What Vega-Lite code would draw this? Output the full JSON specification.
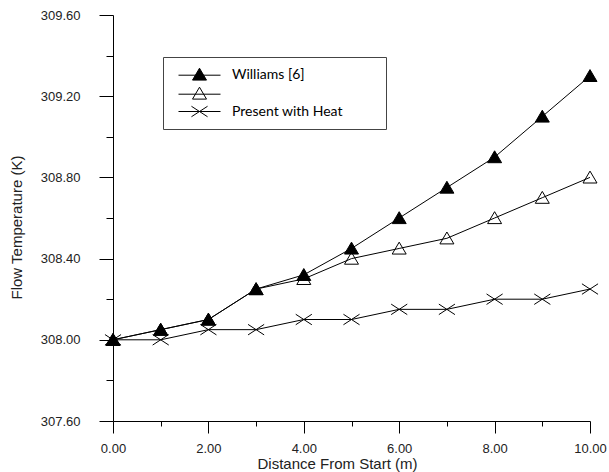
{
  "$schema": "https://vega.github.io/schema/vega-lite/v6.json",
  "width": 477,
  "height": 406,
  "autosize": {"type": "none"},
  "padding": {"left": 113, "top": 15, "right": 19, "bottom": 51},
  "background": "white",
  "config": {
    "view": {"stroke": null},
    "axis": {
      "grid": false,
      "domainColor": "black",
      "tickColor": "black",
      "labelFont": "Liberation Sans",
      "titleFont": "Liberation Sans",
      "labelFontSize": 13,
      "titleFontSize": 15,
      "titleFontWeight": "normal",
      "labelColor": "#222",
      "titleColor": "#222"
    },
    "legend": {
      "orient": "none",
      "legendX": 50,
      "legendY": 42,
      "strokeColor": "#444",
      "padding": 10,
      "rowPadding": 2,
      "symbolOffset": 19,
      "labelOffset": 25,
      "labelFont": "Lato",
      "labelFontSize": 14,
      "labelColor": "black",
      "labelLimit": 400,
      "symbolSize": 196,
      "symbolStrokeWidth": 1,
      "symbolOpacity": 1
    }
  },
  "data": {
    "values": [
      {"series": "Williams [6]", "distance": 0, "temp": 308.00},
      {"series": "Williams [6]", "distance": 1, "temp": 308.05},
      {"series": "Williams [6]", "distance": 2, "temp": 308.10},
      {"series": "Williams [6]", "distance": 3, "temp": 308.25},
      {"series": "Williams [6]", "distance": 4, "temp": 308.32},
      {"series": "Williams [6]", "distance": 5, "temp": 308.45},
      {"series": "Williams [6]", "distance": 6, "temp": 308.60},
      {"series": "Williams [6]", "distance": 7, "temp": 308.75},
      {"series": "Williams [6]", "distance": 8, "temp": 308.90},
      {"series": "Williams [6]", "distance": 9, "temp": 309.10},
      {"series": "Williams [6]", "distance": 10, "temp": 309.30},
      {"series": "Present", "distance": 0, "temp": 308.00},
      {"series": "Present", "distance": 1, "temp": 308.05},
      {"series": "Present", "distance": 2, "temp": 308.10},
      {"series": "Present", "distance": 3, "temp": 308.25},
      {"series": "Present", "distance": 4, "temp": 308.30},
      {"series": "Present", "distance": 5, "temp": 308.40},
      {"series": "Present", "distance": 6, "temp": 308.45},
      {"series": "Present", "distance": 7, "temp": 308.50},
      {"series": "Present", "distance": 8, "temp": 308.60},
      {"series": "Present", "distance": 9, "temp": 308.70},
      {"series": "Present", "distance": 10, "temp": 308.80},
      {"series": "Present with Heat", "distance": 0, "temp": 308.00},
      {"series": "Present with Heat", "distance": 1, "temp": 308.00},
      {"series": "Present with Heat", "distance": 2, "temp": 308.05},
      {"series": "Present with Heat", "distance": 3, "temp": 308.05},
      {"series": "Present with Heat", "distance": 4, "temp": 308.10},
      {"series": "Present with Heat", "distance": 5, "temp": 308.10},
      {"series": "Present with Heat", "distance": 6, "temp": 308.15},
      {"series": "Present with Heat", "distance": 7, "temp": 308.15},
      {"series": "Present with Heat", "distance": 8, "temp": 308.20},
      {"series": "Present with Heat", "distance": 9, "temp": 308.20},
      {"series": "Present with Heat", "distance": 10, "temp": 308.25}
    ]
  },
  "encoding": {
    "x": {
      "field": "distance",
      "type": "quantitative",
      "scale": {"domain": [0, 10], "nice": false},
      "axis": {
        "values": [0, 1, 2, 3, 4, 5, 6, 7, 8, 9, 10],
        "labelExpr": "datum.value % 2 == 0 ? format(datum.value, '.2f') : ''",
        "tickSize": {"condition": {"test": "datum.value % 2 == 0", "value": 12}, "value": 5},
        "labelPadding": 9,
        "labelFlush": false,
        "labelOverlap": false,
        "title": "Distance From Start (m)",
        "titleX": 224,
        "titleY": 47,
        "titleBaseline": "alphabetic"
      }
    },
    "y": {
      "field": "temp",
      "type": "quantitative",
      "scale": {"domain": [307.6, 309.6], "nice": false, "zero": false},
      "axis": {
        "values": [307.6, 307.8, 308.0, 308.2, 308.4, 308.6, 308.8, 309.0, 309.2, 309.4, 309.6],
        "labelExpr": "abs(datum.value * 2.5 - round(datum.value * 2.5)) < 0.01 ? format(datum.value, '.2f') : ''",
        "tickSize": {"condition": {"test": "abs(datum.value * 2.5 - round(datum.value * 2.5)) < 0.01", "value": 14}, "value": 7},
        "labelPadding": 19,
        "labelFlush": false,
        "labelOverlap": false,
        "title": "Flow Temperature (K)",
        "titleX": -97,
        "titleY": 212,
        "titleBaseline": "middle"
      }
    }
  },
  "layer": [
    {
      "mark": {"type": "line", "color": "black", "strokeWidth": 1},
      "encoding": {"detail": {"field": "series"}}
    },
    {
      "mark": {"type": "point", "size": 196, "color": "black", "strokeWidth": 1, "opacity": 1, "filled": false},
      "encoding": {
        "shape": {
          "field": "series",
          "type": "nominal",
          "scale": {
            "domain": ["Williams [6]", "Present", "Present with Heat"],
            "range": ["M0,-0.9L1,0.8L-1,0.8Z", "M0,-0.9L1,0.8L-1,0.8Z", "M-1.15,-0.75L1.15,0.75M-1.15,0.75L1.15,-0.75"]
          },
          "legend": null
        },
        "fill": {
          "field": "series",
          "type": "nominal",
          "scale": {
            "domain": ["Williams [6]", "Present", "Present with Heat"],
            "range": ["black", "transparent", "transparent"]
          },
          "legend": null
        }
      }
    },
    {
      "transform": [{"filter": "false"}],
      "mark": {"type": "point", "size": 196, "color": "black", "strokeWidth": 1, "opacity": 1, "filled": false},
      "encoding": {
        "shape": {
          "field": "series",
          "type": "nominal",
          "scale": {
            "domain": ["Williams [6]", "Present", "Present with Heat"],
            "range": ["M-3,0.1H3M0,-0.9L1,0.8L-1,0.8ZM24.9,0", "M-3,0.1H3M0,-0.9L1,0.8L-1,0.8ZM24.9,0", "M-3,0H3M-1.15,-0.75L1.15,0.75M-1.15,0.75L1.15,-0.75M24.9,0"]
          },
          "legend": {
            "title": null,
            "labelExpr": "datum.label == 'Present' ? '' : datum.label"
          }
        },
        "fill": {
          "field": "series",
          "type": "nominal",
          "scale": {
            "domain": ["Williams [6]", "Present", "Present with Heat"],
            "range": ["black", "transparent", "transparent"]
          },
          "legend": {
            "title": null,
            "labelExpr": "datum.label == 'Present' ? '' : datum.label"
          }
        }
      }
    }
  ],
  "resolve": {
    "scale": {"shape": "independent", "fill": "independent"},
    "legend": {"shape": "independent", "fill": "independent"}
  }
}
